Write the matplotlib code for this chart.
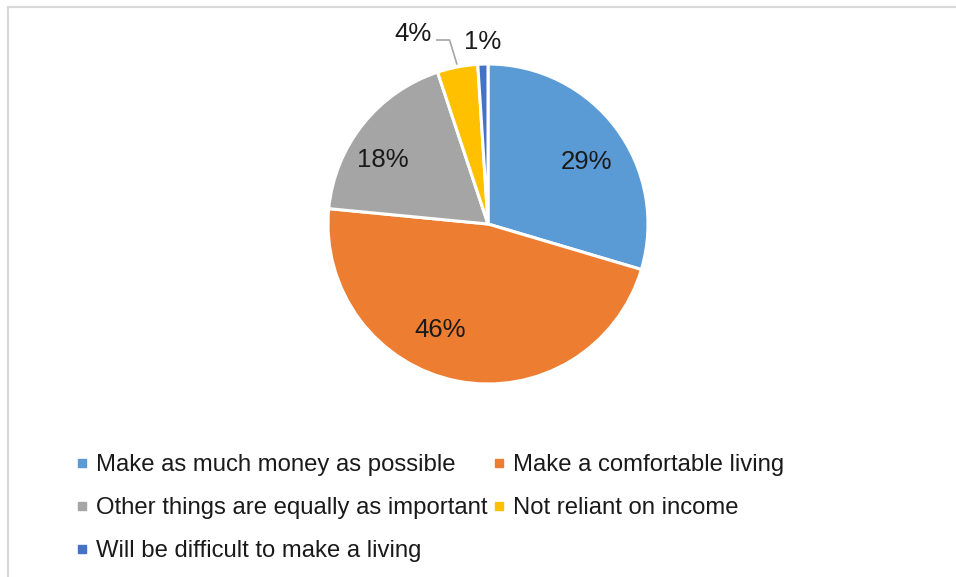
import numpy as np
import matplotlib
matplotlib.use("Agg")
import matplotlib.pyplot as plt
from matplotlib.lines import Line2D
from matplotlib.patches import Rectangle

plt.rcParams["font.family"] = ["Liberation Sans", "DejaVu Sans"]

# survey answers, percent of respondents
categories = ["Make as much money as possible", "Make a comfortable living",
              "Other things are equally as important", "Not reliant on income",
              "Will be difficult to make a living"]
shares = [29, 46, 18, 4, 1]
colors = ["#5B9BD5", "#ED7D31", "#A5A5A5", "#FFC000", "#4472C4"]
TXT = "#1a1a1a"

W, H = 956, 577
fig = plt.figure(figsize=(W / 100, H / 100), dpi=100)

# light frame, running off the right and bottom edges
fig.patches.append(Rectangle((7.5 / W, -0.1), 1.2, 1 - 6.5 / H + 0.1, transform=fig.transFigure,
                             fill=False, edgecolor="#D9D9D9", linewidth=1.6))

cx, cy, r = 488, 224, 160
ax = fig.add_axes([(cx - r) / W, 1 - (cy + r) / H, 2 * r / W, 2 * r / H])
wedges, _ = ax.pie(shares, colors=colors, startangle=90, counterclock=False,
                   wedgeprops=dict(edgecolor="white", linewidth=2.2))
ax.set_xlim(-1, 1); ax.set_ylim(-1, 1)
ax.set_aspect("equal")
ax.axis("off")

# nudges for the inside labels (best-fit placement)
nudge = {0: (0.04, -0.045), 1: (-0.16, 0.045), 2: (-0.095, -0.05)}
LFS = 18.5

for i, (w, v) in enumerate(zip(wedges, shares)):
    mid = np.deg2rad((w.theta1 + w.theta2) / 2)
    lbl = f"{v}%"
    if v >= 10:
        d = 0.72
        dx, dy = nudge.get(i, (0, 0))
        ax.text(d * np.cos(mid) + dx, d * np.sin(mid) + dy, lbl, ha="center",
                va="center", fontsize=LFS, color=TXT)
    elif v >= 3:
        # leader line from slice edge to an elbow, label left of it
        x0, y0 = 1.02 * np.cos(mid), 1.02 * np.sin(mid)
        ex, ey = x0 - 0.045, 1.15
        ax.plot([x0, ex, ex - 0.08], [y0, ey, ey], color="#A6A6A6", lw=1.2,
                clip_on=False)
        ax.text(ex - 0.11, ey + 0.04, lbl, ha="right", va="center", fontsize=LFS,
                color=TXT, clip_on=False)
    else:
        d = 1.14
        ax.text(d * np.cos(mid), d * np.sin(mid), lbl, ha="center", va="center",
                fontsize=LFS, color=TXT, clip_on=False)

# legend filled row-wise: reorder so columns come out as (0,2,4) and (1,3)
order = [0, 2, 4, 1, 3]
handles = [Line2D([], [], marker="s", linestyle="none", markersize=5.5,
                  markerfacecolor=colors[i], markeredgecolor=colors[i]) for i in order]
fig.legend(handles, [categories[i] for i in order], ncol=2, loc="upper left",
           bbox_to_anchor=(64 / W, 1 - 442 / H), frameon=False, fontsize=17.2,
           handlelength=0.5, handletextpad=0.35, columnspacing=0.2,
           labelspacing=0.88, borderpad=0, labelcolor=TXT)

fig.savefig("out.png", dpi=100)
